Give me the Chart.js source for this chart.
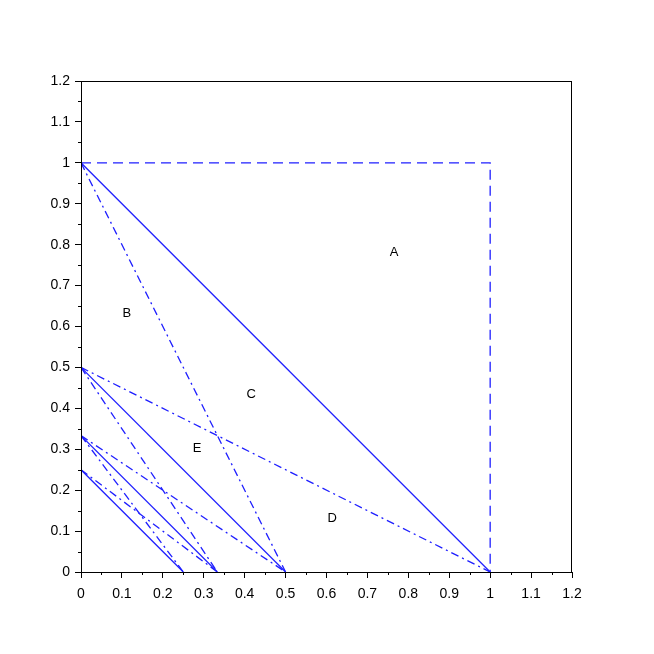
<!DOCTYPE html>
<html>
<head>
<meta charset="utf-8">
<script src="https://cdn.jsdelivr.net/npm/chart.js@4"></script>
<style>
  body { margin: 0; background: #fff; }
  canvas { display: block; }
</style>
</head>
<body>
<canvas id="c" width="654" height="654"></canvas>
<script>
// segments as [x1, y1, x2, y2]
const solidSegments = [
  [0, 1, 1, 0],
  [0, 0.5, 0.5, 0],
  [0, 1 / 3, 1 / 3, 0],
  [0, 0.25, 0.25, 0]
];
const dashDotSegments = [
  [0, 1, 0.5, 0],
  [0, 0.5, 1, 0],
  [0, 0.5, 1 / 3, 0],
  [0, 1 / 3, 0.5, 0],
  [0, 1 / 3, 0.25, 0],
  [0, 0.25, 1 / 3, 0]
];
const dashedX = [0, 1, 1];
const dashedY = [1, 1, 0];

const regionLabels = ["A", "B", "C", "D", "E"];
const regionX = [0.765, 0.112, 0.416, 0.614, 0.284];
const regionY = [0.782, 0.633, 0.433, 0.132, 0.303];

const tickValues = [0, 0.1, 0.2, 0.3, 0.4, 0.5, 0.6, 0.7, 0.8, 0.9, 1, 1.1, 1.2];

const blue = "#1f1fff";
const fontFamily = "'Liberation Sans Narrow', 'Liberation Sans', Arial, sans-serif";
const datasets = [];
solidSegments.forEach(s => datasets.push({
  data: [{ x: s[0], y: s[1] }, { x: s[2], y: s[3] }],
  borderColor: blue, borderWidth: 1.3
}));
dashDotSegments.forEach(s => datasets.push({
  data: [{ x: s[0], y: s[1] }, { x: s[2], y: s[3] }],
  borderColor: blue, borderWidth: 1.3, borderDash: [8, 4, 2, 4]
}));
datasets.push({
  data: dashedX.map((x, i) => ({ x: x, y: dashedY[i] })),
  borderColor: blue, borderWidth: 1.3, borderDash: [10, 6]
});
datasets.forEach(d => { d.showLine = true; d.pointRadius = 0; d.fill = false; });

// box, minor ticks and region letters
const extras = {
  id: "extras",
  afterDraw(chart) {
    const ctx = chart.ctx;
    const a = chart.chartArea;
    const xs = chart.scales.x, ys = chart.scales.y;
    ctx.save();
    ctx.strokeStyle = "#000";
    ctx.lineWidth = 1;
    ctx.strokeRect(a.left + 0.5, a.top + 0.5, a.right - a.left - 1, a.bottom - a.top);
    ctx.beginPath();
    for (let i = 0; i < tickValues.length - 1; i++) {
      const m = (tickValues[i] + tickValues[i + 1]) / 2;
      const px = Math.round(xs.getPixelForValue(m)) + 0.5;
      ctx.moveTo(px, a.bottom); ctx.lineTo(px, a.bottom + 3);
      const py = Math.round(ys.getPixelForValue(m)) + 0.5;
      ctx.moveTo(a.left, py); ctx.lineTo(a.left - 3, py);
    }
    ctx.stroke();
    ctx.fillStyle = "#000";
    ctx.font = "13px " + fontFamily;
    ctx.textAlign = "center";
    ctx.textBaseline = "middle";
    regionLabels.forEach((t, i) => {
      ctx.fillText(t, xs.getPixelForValue(regionX[i]), ys.getPixelForValue(regionY[i]));
    });
    ctx.restore();
  }
};

const axis = (pos) => ({
  type: "linear",
  min: 0, max: 1.2,
  afterBuildTicks: s => { s.ticks = tickValues.map(v => ({ value: v })); },
  ticks: {
    color: "#000",
    font: { family: fontFamily, size: 14 },
    padding: pos === "x" ? 8 : 5,
    callback: v => String(Math.round(v * 10) / 10)
  },
  grid: { drawOnChartArea: false, drawTicks: true, tickLength: 6, color: "#000" },
  border: { display: true, color: "#000", width: 1 },
  afterFit: s => { if (pos === "x") s.height = 82; else s.width = 81; }
});

new Chart(document.getElementById("c"), {
  type: "scatter",
  data: { datasets: datasets },
  options: {
    responsive: false,
    animation: false,
    layout: { padding: { left: 0, top: 81, right: 82, bottom: 0 } },
    plugins: { legend: { display: false }, tooltip: { enabled: false } },
    scales: { x: axis("x"), y: axis("y") }
  },
  plugins: [extras]
});
</script>
</body>
</html>
